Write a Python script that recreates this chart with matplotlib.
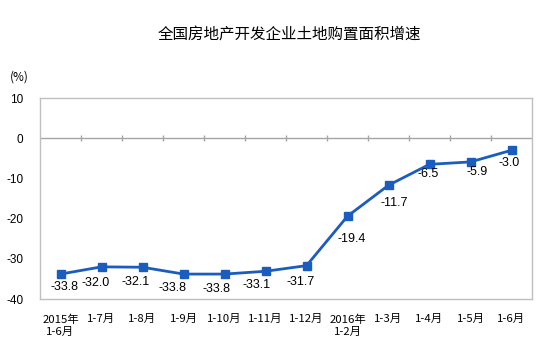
import numpy as np
import matplotlib
matplotlib.use("Agg")
import matplotlib.pyplot as plt

plt.rcParams['font.family'] = ['Liberation Sans', 'Noto Sans CJK SC', 'DejaVu Sans']

months = ["2015年\n1-6月", "1-7月", "1-8月", "1-9月", "1-10月", "1-11月", "1-12月",
          "2016年\n1-2月", "1-3月", "1-4月", "1-5月", "1-6月"]
growth = [-33.8, -32.0, -32.1, -33.8, -33.8, -33.1, -31.7, -19.4, -11.7, -6.5, -5.9, -3.0]
# label offsets in pixels (dx right, dy down)
lab_dx = [4, -6, -7, -11, -8, -9, -6, 4, 6, -1, 7, -2]
lab_dy = [13, 16, 15, 14, 15, 14, 16, 23, 18, 10, 10, 13]
yticks = [10, 0, -10, -20, -30, -40]

fig = plt.figure(figsize=(5.44, 3.51), dpi=100)
ax = fig.add_axes([40/544, 1-299/351, 492/544, 201/351])

x = np.arange(len(growth))
ax.plot(x, growth, color='#1A5DBE', lw=2, marker='s', ms=5.5, zorder=3)
for i, v in enumerate(growth):
    ax.annotate(f"{v:.1f}", (x[i], v), xytext=(lab_dx[i]*0.72, -lab_dy[i]*0.72),
                textcoords='offset points', ha='center', va='center', fontsize=9)

ax.axhline(0, color='#A6A6A6', lw=1, zorder=1)
ax.vlines(x[:-1] + 0.5, -0.7, 0.7, color='#A6A6A6', lw=1, zorder=1)

ax.set_xlim(-0.5, len(growth) - 0.5)
ax.set_ylim(-40, 10)
ax.set_yticks(yticks)
ax.set_yticklabels([str(t) for t in yticks], fontsize=8.5)
ax.tick_params(axis='y', length=0, pad=12)
ax.set_xticks(x)
ax.set_xticklabels(months, fontsize=8.2, family=['Noto Sans CJK SC', 'DejaVu Sans'], linespacing=1.3)
ax.tick_params(axis='x', length=0, pad=11)
for lbl in ax.get_xticklabels():
    lbl.set_verticalalignment('top')
for s in ax.spines.values():
    s.set_color('#BFBFBF')
    s.set_linewidth(1)

fig.text(19/544, 1-77/351, "(%)", ha='center', va='center', fontsize=8.5,
         family=['Noto Sans CJK SC', 'DejaVu Sans'])
fig.text(289/544, 1-34/351, "全国房地产开发企业土地购置面积增速", ha='center', va='center',
         fontsize=11.2, family=['Noto Sans CJK SC', 'DejaVu Sans'])

fig.savefig("out.png", dpi=100)
